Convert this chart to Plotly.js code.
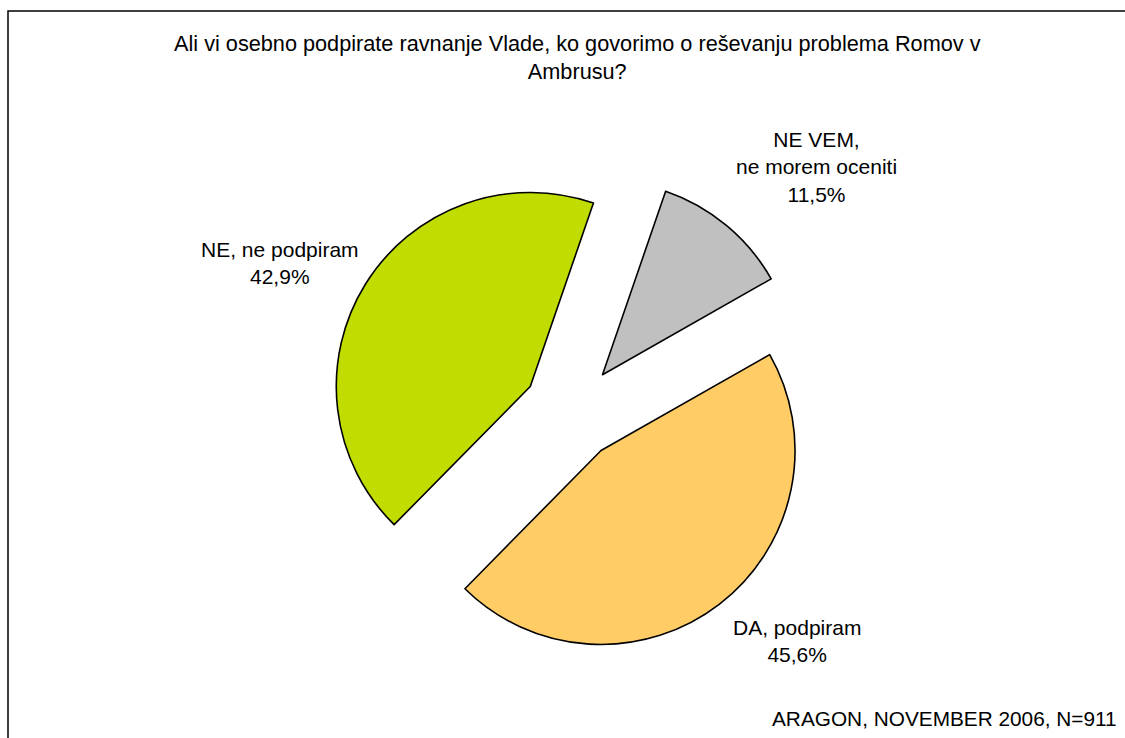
<!DOCTYPE html>
<html>
<head>
<meta charset="utf-8">
<script src="https://cdn.plot.ly/plotly-3.0.1.min.js"></script>
<style>html,body{margin:0;padding:0;background:#fff;}#chart{width:1125px;height:738px;}</style>
</head>
<body>
<div id="chart"></div>
<script>
const categories = ["NE VEM, ne morem oceniti", "DA, podpiram", "NE, ne podpiram"];
const values = [11.5, 45.6, 42.9];
const sliceColors = ["#C0C0C0", "#FFCC66", "#C0DC00"];
const labelTexts = ["NE VEM,<br>ne morem oceniti<br>11,5%", "DA, podpiram<br>45,6%", "NE, ne podpiram<br>42,9%"];
const titleText = "Ali vi osebno podpirate ravnanje Vlade, ko govorimo o reševanju problema Romov v<br>Ambrusu?";
const sourceText = "ARAGON, NOVEMBER 2006, N=911";

const W = 1125, H = 738;
const px = x => x / W;
const py = y => 1 - y / H;
const FONT = "Liberation Sans, Arial, sans-serif";

const labelPos = [[816, 167], [797, 641], [279.5, 262.5]];

const annotations = labelTexts.map((t, i) => ({
  text: t, xref: "paper", yref: "paper",
  x: px(labelPos[i][0]), y: py(labelPos[i][1]),
  xanchor: "center", yanchor: "middle", showarrow: false,
  align: "center", font: {family: FONT, size: 21, color: "#000"}
}));
annotations.push({
  text: titleText, xref: "paper", yref: "paper",
  x: px(577), y: py(58), xanchor: "center", yanchor: "middle",
  showarrow: false, align: "center",
  font: {family: FONT, size: 21.7, color: "#000"}
});
annotations.push({
  text: sourceText, xref: "paper", yref: "paper",
  x: px(1119), y: py(718), xanchor: "right", yanchor: "middle",
  showarrow: false, align: "right",
  font: {family: FONT, size: 20.8, color: "#000"}
});

const cx = 571.5, cy = 412, half = 242.5;

const data = [{
  type: "pie",
  labels: categories,
  values: values,
  sort: false,
  direction: "clockwise",
  rotation: 19,
  pull: [0.25, 0.25, 0.25],
  marker: {colors: sliceColors, line: {color: "#000", width: 1.6}},
  textinfo: "none",
  hoverinfo: "label+percent",
  domain: {x: [px(cx - half), px(cx + half)], y: [py(cy + half), py(cy - half)]}
}];

const layout = {
  width: W, height: H,
  margin: {l: 0, r: 0, t: 0, b: 0},
  paper_bgcolor: "#fff",
  showlegend: false,
  annotations: annotations,
  shapes: [{
    type: "rect", xref: "paper", yref: "paper",
    x0: px(8), y0: py(11), x1: 1.05, y1: -0.05,
    line: {color: "#000", width: 1.5}, fillcolor: "rgba(0,0,0,0)"
  }]
};

Plotly.newPlot("chart", data, layout, {displayModeBar: false, staticPlot: true});
</script>
</body>
</html>
